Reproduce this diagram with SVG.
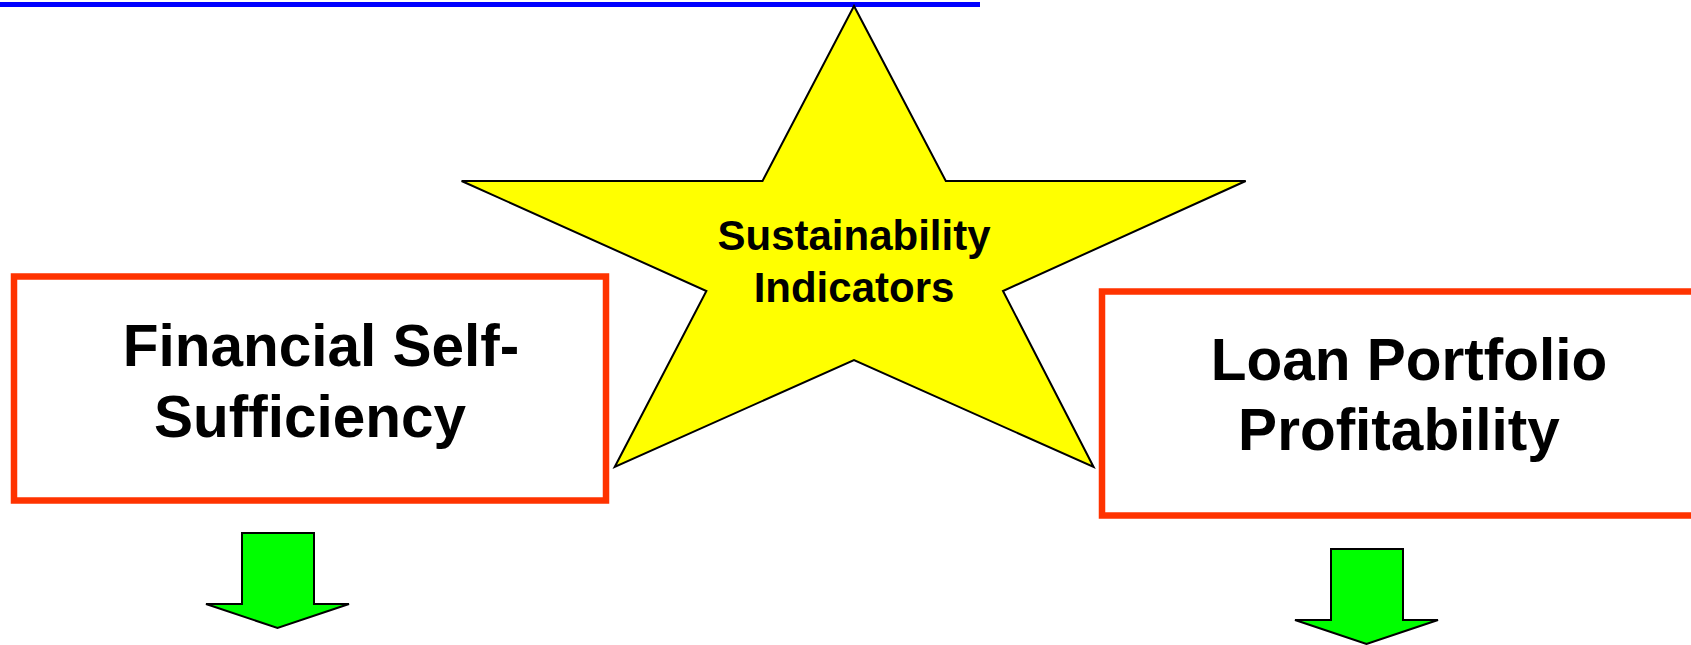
<svg xmlns="http://www.w3.org/2000/svg" width="1691" height="645" viewBox="0 0 1691 645">
<style>
.box{fill:#fff;stroke:#ff3300;stroke-width:6.5}
.big{font-family:"Liberation Sans",Arial,sans-serif;font-weight:bold;font-size:58.5px;fill:#000;text-anchor:middle}
.small{font-family:"Liberation Sans",Arial,sans-serif;font-weight:bold;font-size:42px;fill:#000;text-anchor:middle}
.arrow{fill:#00ff00;stroke:#000;stroke-width:2;stroke-linejoin:miter}
</style>
<defs>
<path id="downArrow" d="M36,0 H108 V71 H143 L71.5,95 L0,71 H36 Z"/>
</defs>
<rect width="1691" height="645" fill="#fff"/>
<g id="title-underline">
<rect x="0" y="2" width="980" height="5" fill="#0000ff"/>
</g>
<g id="star">
<polygon points="854,6 762.5,181 461.6,181 706.4,291 614.7,467 854,360 1093.6,467 1003,291 1245.7,181 945.8,181" fill="#ffff00" stroke="#000" stroke-width="2"/>
<text class="small" x="854" y="250">Sustainability</text>
<text class="small" x="854" y="302">Indicators</text>
</g>
<g id="financial-self-sufficiency">
<rect class="box" x="14" y="276.5" width="592" height="224"/>
<text class="big" x="321" y="366">Financial Self-</text>
<text class="big" x="310" y="437">Sufficiency</text>
</g>
<g id="loan-portfolio-profitability">
<rect class="box" x="1102" y="291.5" width="600" height="224"/>
<text class="big" x="1409" y="380">Loan Portfolio</text>
<text class="big" x="1399" y="450">Profitability</text>
</g>
<g id="connectors">
<use href="#downArrow" class="arrow" transform="translate(206,533)"/>
<use href="#downArrow" class="arrow" transform="translate(1295,549)"/>
</g>
</svg>
